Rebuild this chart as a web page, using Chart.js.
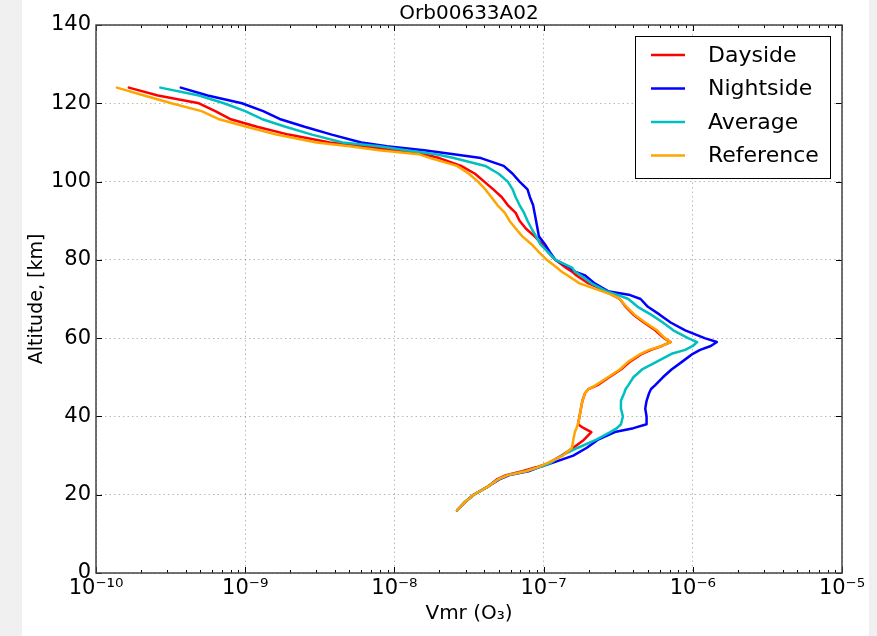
<!DOCTYPE html>
<html>
<head>
<meta charset="utf-8">
<title>Orb00633A02</title>
<script src="https://cdn.jsdelivr.net/npm/chart.js@4.4.1/dist/chart.umd.min.js"></script>
<style>
  html, body { margin: 0; padding: 0; background: #f0f0f0; }
  canvas { display: block; }
</style>
</head>
<body>
<canvas id="myChart" width="877" height="636"></canvas>
<script>
const chartTitle = "Orb00633A02";
const xTitle = "Vmr (O₃)";
const yTitle = "Altitude, [km]";

// altitude grid, km
const altitudes = [16, 18, 20, 22, 24, 25, 26, 27, 28, 30, 32, 34, 36, 37, 38, 40, 42, 44, 46, 47, 48, 50, 52, 54, 56, 57, 58, 59, 60, 62, 64, 66, 68, 70, 71, 72, 74, 76, 77, 78, 80, 82, 84, 86, 88, 90, 92, 94, 96, 98, 100, 102, 104, 106, 107, 108, 109, 110, 112, 114, 116, 118, 120, 122, 124];

// O3 volume mixing ratio for each altitude
const dayside = [2.63e-8, 2.95e-8, 3.4e-8, 4.2e-8, 4.9e-8, 5.6e-8, 7.2e-8, 8.9e-8, 1.07e-7, 1.32e-7, 1.58e-7, 1.86e-7, 2.09e-7, 1.86e-7, 1.7e-7, 1.74e-7, 1.78e-7, 1.82e-7, 1.9e-7, 2.0e-7, 2.3e-7, 2.75e-7, 3.3e-7, 3.8e-7, 4.57e-7, 5.25e-7, 6.2e-7, 7.1e-7, 6.4e-7, 5.6e-7, 4.7e-7, 4.0e-7, 3.55e-7, 3.24e-7, 2.9e-7, 2.63e-7, 2.0e-7, 1.66e-7, 1.55e-7, 1.41e-7, 1.2e-7, 1.07e-7, 9.8e-8, 8.7e-8, 7.6e-8, 6.9e-8, 6.5e-8, 5.75e-8, 5.25e-8, 4.6e-8, 4.0e-8, 3.47e-8, 2.8e-8, 2.0e-8, 1.58e-8, 1.0e-8, 6.2e-9, 3.7e-9, 1.95e-9, 1.2e-9, 7.9e-10, 6.3e-10, 4.9e-10, 2.6e-10, 1.66e-10];
const nightside = [2.63e-8, 2.95e-8, 3.4e-8, 4.2e-8, 5.1e-8, 5.9e-8, 7.9e-8, 9.3e-8, 1.12e-7, 1.58e-7, 1.95e-7, 2.3e-7, 3.0e-7, 4.0e-7, 4.9e-7, 4.9e-7, 4.8e-7, 4.9e-7, 5.1e-7, 5.25e-7, 5.6e-7, 6.3e-7, 7.2e-7, 8.5e-7, 1.0e-6, 1.12e-6, 1.32e-6, 1.45e-6, 1.2e-6, 8.9e-7, 7.1e-7, 6.0e-7, 5.0e-7, 4.47e-7, 3.8e-7, 2.7e-7, 2.2e-7, 1.9e-7, 1.62e-7, 1.51e-7, 1.2e-7, 1.1e-7, 1.02e-7, 9.3e-8, 9.1e-8, 8.9e-8, 8.7e-8, 8.5e-8, 8.1e-8, 7.8e-8, 6.9e-8, 6.2e-8, 5.4e-8, 3.8e-8, 2.5e-8, 1.58e-8, 8.9e-9, 6.0e-9, 3.8e-9, 2.5e-9, 1.7e-9, 1.32e-9, 9.5e-10, 5.6e-10, 3.7e-10];
const average = [2.63e-8, 2.95e-8, 3.4e-8, 4.2e-8, 5.0e-8, 5.75e-8, 7.6e-8, 9.3e-8, 1.1e-7, 1.32e-7, 1.7e-7, 2.24e-7, 2.8e-7, 3.1e-7, 3.3e-7, 3.4e-7, 3.3e-7, 3.3e-7, 3.47e-7, 3.55e-7, 3.7e-7, 4.0e-7, 4.57e-7, 5.75e-7, 7.2e-7, 8.9e-7, 1.0e-6, 1.07e-6, 9.3e-7, 7.4e-7, 6.3e-7, 5.25e-7, 4.27e-7, 3.7e-7, 3.16e-7, 2.63e-7, 2.09e-7, 1.78e-7, 1.62e-7, 1.55e-7, 1.2e-7, 1.07e-7, 9.5e-8, 8.9e-8, 8.3e-8, 7.8e-8, 7.4e-8, 6.9e-8, 6.5e-8, 6.2e-8, 5.75e-8, 5.0e-8, 4.07e-8, 2.5e-8, 1.9e-8, 1.2e-8, 7.9e-9, 4.5e-9, 2.8e-9, 1.86e-9, 1.29e-9, 1.0e-9, 7.2e-10, 4.9e-10, 2.7e-10];
const reference = [2.63e-8, 2.95e-8, 3.4e-8, 4.2e-8, 5.0e-8, 5.75e-8, 7.6e-8, 9.1e-8, 1.05e-7, 1.35e-7, 1.55e-7, 1.58e-7, 1.62e-7, 1.66e-7, 1.7e-7, 1.74e-7, 1.78e-7, 1.82e-7, 1.9e-7, 2.0e-7, 2.24e-7, 2.7e-7, 3.24e-7, 3.7e-7, 4.47e-7, 5.1e-7, 6.2e-7, 7.1e-7, 6.5e-7, 5.75e-7, 4.8e-7, 4.07e-7, 3.6e-7, 3.24e-7, 2.9e-7, 2.45e-7, 1.74e-7, 1.45e-7, 1.32e-7, 1.23e-7, 1.05e-7, 9.3e-8, 8.3e-8, 7.2e-8, 6.5e-8, 5.9e-8, 5.5e-8, 4.9e-8, 4.47e-8, 4.07e-8, 3.63e-8, 3.16e-8, 2.63e-8, 1.74e-8, 1.45e-8, 7.9e-9, 5.0e-9, 3.0e-9, 1.62e-9, 1.02e-9, 6.6e-10, 5.1e-10, 3.2e-10, 2.1e-10, 1.38e-10];

const xTickValues = [1e-10, 1e-9, 1e-8, 1e-7, 1e-6, 1e-5];
const xTickLabels = ["10⁻¹⁰", "10⁻⁹", "10⁻⁸", "10⁻⁷", "10⁻⁶", "10⁻⁵"];
const yTickValues = [0, 20, 40, 60, 80, 100, 120, 140];

const FONT = "'DejaVu Sans', 'Liberation Sans', sans-serif";

const toPoints = (vals) => vals.map((v, i) => ({ x: v, y: altitudes[i] }));

// background, frame, inner ticks, title and legend (matplotlib look)
const figurePlugin = {
  id: "figure",
  beforeDraw(chart) {
    const c = chart.ctx;
    c.save();
    c.fillStyle = "#f0f0f0";
    c.fillRect(0, 0, chart.width, chart.height);
    c.fillStyle = "#ffffff";
    c.fillRect(22, 0, 847, chart.height);
    c.restore();
  },
  afterDraw(chart) {
    const c = chart.ctx;
    const a = chart.chartArea;
    const xs = chart.scales.x;
    const ys = chart.scales.y;
    c.save();

    c.strokeStyle = "#000";
    c.lineWidth = 1;
    c.beginPath();
    xTickValues.forEach((v, i) => {
      const px = Math.round(xs.getPixelForValue(v)) + 0.5;
      c.moveTo(px, a.bottom); c.lineTo(px, a.bottom - 6);
      c.moveTo(px, a.top); c.lineTo(px, a.top + 6);
      if (i < xTickValues.length - 1) {
        for (let m = 2; m < 10; m++) {
          const mx = Math.round(xs.getPixelForValue(v * m)) + 0.5;
          c.moveTo(mx, a.bottom); c.lineTo(mx, a.bottom - 3);
          c.moveTo(mx, a.top); c.lineTo(mx, a.top + 3);
        }
      }
    });
    yTickValues.forEach((v) => {
      const py = Math.round(ys.getPixelForValue(v)) + 0.5;
      c.moveTo(a.left, py); c.lineTo(a.left + 6, py);
      c.moveTo(a.right, py); c.lineTo(a.right - 6, py);
    });
    c.stroke();

    c.strokeStyle = "#444";
    c.lineWidth = 1.5;
    c.strokeRect(a.left, a.top, a.right - a.left, a.bottom - a.top);

    // title
    c.fillStyle = "#000";
    c.font = "20px " + FONT;
    c.textAlign = "center";
    c.textBaseline = "alphabetic";
    c.fillText(chartTitle, (a.left + a.right) / 2, 19);

    // legend box
    const lx = 635, ly = 36, lw = 195, lh = 142;
    c.fillStyle = "#fff";
    c.fillRect(lx, ly, lw, lh);
    c.strokeStyle = "#000";
    c.lineWidth = 1;
    c.strokeRect(lx + 0.5, ly + 0.5, lw, lh);
    c.font = "22px " + FONT;
    c.textAlign = "left";
    c.textBaseline = "middle";
    chart.data.datasets.forEach((ds, i) => {
      const y = 55 + i * 33.5;
      c.strokeStyle = ds.borderColor;
      c.lineWidth = 2.5;
      c.beginPath();
      c.moveTo(651, y); c.lineTo(685, y);
      c.stroke();
      c.fillStyle = "#000";
      c.fillText(ds.label, 708, y + 1);
    });
    c.restore();
  }
};

const ctx = document.getElementById("myChart");

new Chart(ctx, {
  type: "scatter",
  data: {
    datasets: [
      { label: "Dayside", data: toPoints(dayside), borderColor: "#ff0000", backgroundColor: "#ff0000", showLine: true, order: 3 },
      { label: "Nightside", data: toPoints(nightside), borderColor: "#0000ff", backgroundColor: "#0000ff", showLine: true, order: 2 },
      { label: "Average", data: toPoints(average), borderColor: "#00bfbf", backgroundColor: "#00bfbf", showLine: true, order: 1 },
      { label: "Reference", data: toPoints(reference), borderColor: "#ffa500", backgroundColor: "#ffa500", showLine: true, order: 0 },
    ],
  },
  options: {
    responsive: false,
    animation: false,
    layout: { padding: { left: 0, right: 35, top: 25, bottom: 0 } },
    elements: {
      point: { radius: 0, hoverRadius: 0 },
      line: { borderWidth: 2.5, tension: 0, fill: false, borderJoinStyle: "round", borderCapStyle: "round" },
    },
    plugins: {
      legend: { display: false },
      tooltip: { enabled: false },
    },
    scales: {
      x: {
        type: "logarithmic",
        min: 1e-10,
        max: 1e-5,
        afterBuildTicks: (s) => { s.ticks = xTickValues.map((v) => ({ value: v })); },
        afterFit: (s) => { s.height = 63; },
        ticks: {
          autoSkip: false,
          maxRotation: 0,
          padding: 3,
          color: "#000",
          font: { family: FONT, size: 21 },
          callback: (v, i) => xTickLabels[i],
        },
        grid: { drawTicks: false, color: "rgba(0,0,0,0.28)", lineWidth: 1 },
        border: { display: false, dash: [1.5, 3] },
        title: { display: true, text: xTitle, color: "#000", font: { family: FONT, size: 20 }, padding: { top: 0, bottom: 10 } },
      },
      y: {
        type: "linear",
        min: 0,
        max: 140,
        afterBuildTicks: (s) => { s.ticks = yTickValues.map((v) => ({ value: v })); },
        afterFit: (s) => { s.width = 96; },
        ticks: {
          padding: 5,
          color: "#000",
          font: { family: FONT, size: 21 },
        },
        grid: { drawTicks: false, color: "rgba(0,0,0,0.28)", lineWidth: 1 },
        border: { display: false, dash: [1.5, 3] },
        title: { display: true, text: yTitle, color: "#000", font: { family: FONT, size: 19 }, padding: { top: 26, bottom: 0 } },
      },
    },
  },
  plugins: [figurePlugin],
});
</script>
</body>
</html>
